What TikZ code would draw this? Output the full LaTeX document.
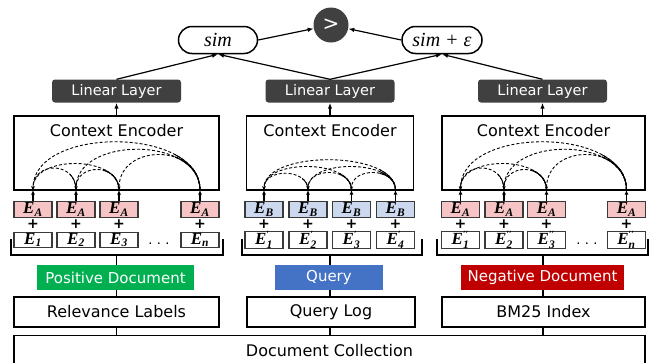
\documentclass[tikz,border=0pt]{standalone}
\usepackage{fontspec}
\setmainfont{DejaVu Sans}
\newfontfamily\serifface{Liberation Serif}
\usetikzlibrary{arrows.meta,calc}

\definecolor{darkbox}{HTML}{404040}
\definecolor{tokenedge}{HTML}{3A3A3A}
\definecolor{pinkfill}{HTML}{F6C4C4}
\definecolor{bluefill}{HTML}{CCD8EE}
\definecolor{posgreen}{HTML}{00B050}
\definecolor{qblue}{HTML}{4472C4}
\definecolor{negred}{HTML}{C00000}

\tikzset{
  framebox/.style={draw=black, line width=1.4pt, inner sep=0pt},
  enclabel/.style={font=\fontsize{16}{19}\selectfont, inner sep=0pt},
  linlayer/.style={fill=darkbox, rounded corners=3pt, text=white, inner sep=0pt,
    minimum width=129pt, minimum height=23pt, font=\fontsize{14.5}{17}\selectfont},
  pill/.style={draw=black, line width=1.5pt, rounded corners=13.5pt, inner sep=0pt,
    minimum height=27pt, font=\fontsize{20}{22}\selectfont\serifface\itshape},
  cmpnode/.style={circle, fill=darkbox, minimum size=35pt, inner sep=0pt, text=white,
    font=\fontsize{20}{22}\selectfont},
  tokbase/.style={draw=tokenedge, line width=1.1pt, minimum width=38pt, minimum height=15.5pt,
    inner sep=0pt, font=\fontsize{17}{17}\selectfont\serifface\bfseries\itshape},
  tokA/.style={tokbase, fill=pinkfill},
  tokB/.style={tokbase, fill=bluefill},
  tokE/.style={tokbase, fill=white},
  plussign/.style={inner sep=0pt, font=\fontsize{14}{14}\selectfont\bfseries},
  dotsnode/.style={inner sep=0pt, font=\fontsize{13}{13}\selectfont},
  tag/.style={inner sep=0pt, text=white, minimum height=25pt, font=\fontsize{15}{18}\selectfont},
  srcbox/.style={framebox, minimum height=30pt, font=\fontsize{16}{19}\selectfont},
  arr/.style={line width=1.2pt, -{Latex[length=6pt,width=4.5pt]}},
  uparr/.style={line width=1.1pt, -{Latex[length=4.5pt,width=4pt]}},
  link/.style={line width=1.4pt},
  attn/.style={line width=0.9pt, dash pattern=on 3pt off 2pt, -{Stealth[length=3.5pt,width=3pt]}},
  attnsolid/.style={line width=0.9pt},
}

% attention arc from token #2 back to token #3 of group #1,
% control height #4, solid start over a width of #5
\newcommand\attnarc[5]{%
  \draw[attn] (#1-t#2) .. controls +(0,-#4) and +(0,-#4) .. (#1-t#3);
  \begin{scope}
    \clip ($(#1-t#2)+(-#5,-70)$) rectangle ($(#1-t#2)+(2,1)$);
    \draw[attnsolid] (#1-t#2) .. controls +(0,-#4) and +(0,-#4) .. (#1-t#3);
  \end{scope}}

% token labels: segment embedding and position embeddings
\newcommand\subtxt[1]{\mbox{\fontsize{11.5}{12}\selectfont #1}}
\newcommand\suptxt[1]{\mbox{\fontsize{9.5}{10}\selectfont\upshape #1}}
\newcommand\tokA{E$_{\subtxt{A}}$}
\newcommand\tokB{E$_{\subtxt{B}}$}
\newcommand\tokPos[1]{E$_{\subtxt{#1}}$}
\newcommand\tokPosP[1]{E$^{\suptxt{′}}_{\subtxt{#1}}$}
\newcommand\tokPosPP[1]{E$^{\suptxt{′′}}_{\subtxt{#1}}$}

\begin{document}
\begin{tikzpicture}[x=1pt,y=-1pt]
\useasboundingbox (0,0) rectangle (651,362);
\clip (0,0) rectangle (651,362);

% ---------- comparison on top ----------
\node[cmpnode] (gt) at (331,25) {\textgreater};
\node[pill, minimum width=79pt] (sim) at (218,40) {sim};
\node[pill, minimum width=80pt] (simeps) at (442,40) {sim + ε};
\draw[arr] (sim.east) -- (gt);
\draw[arr] (simeps.west) -- (gt);

% ---------- linear layers ----------
\node[linlayer] (L-ll) at (116.5,91) {Linear Layer};
\node[linlayer] (M-ll) at (330,91) {Linear Layer};
\node[linlayer] (R-ll) at (542.5,91) {Linear Layer};
\draw[arr] (L-ll.north) -- (sim.south);
\draw[arr] (M-ll.north) -- (sim.south);
\draw[arr] (M-ll.north) -- (simeps.south);
\draw[arr] (R-ll.north) -- (simeps.south);

% ---------- context encoders ----------
\node[framebox, minimum width=205pt, minimum height=74pt] (L-enc) at (116.5,153) {};
\node[framebox, minimum width=167pt, minimum height=74pt] (M-enc) at (330,153) {};
\node[framebox, minimum width=203pt, minimum height=74pt] (R-enc) at (543.5,153) {};
\foreach \g in {L,M,R}{
  \node[enclabel] (\g-enclab) at ($(\g-enc.north)+(0,15)$) {Context Encoder};
}
\draw[arr] (L-enc.north) -- (L-ll.south);
\draw[arr] (M-enc.north) -- (M-ll.south);
\draw[arr] (R-enc.north -| R-ll.south) -- (R-ll.south);

% ---------- token embeddings ----------
\foreach \x/\s [count=\i] in {33/1,76/2,119/3,200/n}{
  \node[tokA] (L-a\i) at (\x,209.5) {\tokA};
  \node[plussign] (L-p\i) at (\x,224.5) {+};
  \node[tokE] (L-e\i) at (\x,240) {\tokPos{\s}};
  \coordinate (L-t\i) at (\x,190);
  \draw[uparr] (L-a\i.north) -- (L-t\i);
}
\foreach \x/\s [count=\i] in {264/1,308/2,351.5/3,395.5/4}{
  \node[tokB] (M-a\i) at (\x,209.5) {\tokB};
  \node[plussign] (M-p\i) at (\x,224.5) {+};
  \node[tokE] (M-e\i) at (\x,240) {\tokPosP{\s}};
  \coordinate (M-t\i) at (\x,190);
  \draw[uparr] (M-a\i.north) -- (M-t\i);
}
\foreach \x/\s [count=\i] in {460.5/1,504/2,546.5/3,626.5/n}{
  \node[tokA] (R-a\i) at (\x,209.5) {\tokA};
  \node[plussign] (R-p\i) at (\x,224.5) {+};
  \node[tokE] (R-e\i) at (\x,240) {\tokPosPP{\s}};
  \coordinate (R-t\i) at (\x,190);
  \draw[uparr] (R-a\i.north) -- (R-t\i);
}
\node[dotsnode] (L-dots) at (159,244) {.\,\,.\,\,.};
\node[dotsnode] (R-dots) at (587,244) {.\,\,.\,\,.};

% ---------- attention arcs ----------
\foreach \g in {L,R}{
  \attnarc{\g}{2}{1}{29}{6}
  \attnarc{\g}{3}{1}{35}{14}
  \attnarc{\g}{3}{2}{27}{14}
  \attnarc{\g}{4}{1}{64}{25}
  \attnarc{\g}{4}{2}{54}{25}
  \attnarc{\g}{4}{3}{47}{25}
}
\attnarc{M}{2}{1}{22}{6}
\attnarc{M}{3}{1}{31}{12}
\attnarc{M}{3}{2}{23}{12}
\attnarc{M}{4}{1}{40}{16}
\attnarc{M}{4}{2}{31}{16}
\attnarc{M}{4}{3}{23}{16}

% ---------- brackets under the tokens ----------
\coordinate (L-bl) at (11,239);   \coordinate (L-br) at (223,239);
\coordinate (M-bl) at (242,239);  \coordinate (M-br) at (422,239);
\coordinate (R-bl) at (437,239);  \coordinate (R-br) at (648,239);
\coordinate (L-brk) at (116.5,255);
\coordinate (M-brk) at (330,255);
\coordinate (R-brk) at (543,255);
\foreach \g in {L,M,R}{
  \draw[link] (\g-bl) -- (\g-bl |- \g-brk) -- (\g-br |- \g-brk) -- (\g-br);
}

% ---------- document roles ----------
\node[tag, fill=posgreen, minimum width=157pt] (pos) at (115.5,277.5) {Positive Document};
\node[tag, fill=qblue, minimum width=108pt] (qry) at (329,277.5) {Query};
\node[tag, fill=negred, minimum width=163pt] (neg) at (542.5,277.5) {Negative Document};

% ---------- sources ----------
\node[srcbox, minimum width=205pt] (rel) at (116.5,312) {Relevance Labels};
\node[srcbox, minimum width=168pt] (qlog) at (331,312) {Query Log};
\node[srcbox, minimum width=203pt] (bm25) at (543.5,312) {BM25 Index};
\node[srcbox, minimum width=631pt, anchor=north] (dc) at (329.5,335) {Document Collection};

\draw[link] (L-brk) -- (L-brk |- pos.north);
\draw[link] (M-brk) -- (M-brk |- qry.north);
\draw[link] (R-brk) -- (R-brk |- neg.north);
\draw[link] (L-brk |- pos.south) -- (L-brk |- rel.north);
\draw[link] (M-brk |- qry.south) -- (M-brk |- qlog.north);
\draw[link] (R-brk |- neg.south) -- (R-brk |- bm25.north);
\draw[link] (L-brk |- rel.south) -- (L-brk |- dc.north);
\draw[link] (M-brk |- qlog.south) -- (M-brk |- dc.north);
\draw[link] (R-brk |- bm25.south) -- (R-brk |- dc.north);
\end{tikzpicture}
\end{document}
